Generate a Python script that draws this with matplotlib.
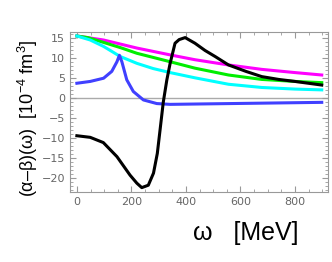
import matplotlib.pyplot as plt
import numpy as np
from matplotlib.ticker import MultipleLocator

plt.rcParams['mathtext.fontset'] = 'custom'
plt.rcParams['mathtext.rm'] = 'Liberation Sans'
plt.rcParams['mathtext.it'] = 'Liberation Sans'

# curves (omega in MeV, values in 10^-4 fm^3)
w_black = np.array([0, 49, 97, 147, 195, 220, 238, 262, 281, 295, 305, 317, 330, 342, 360, 375, 397,
                    433, 470, 507, 556, 620, 678, 740, 800, 898])
v_black = np.array([-9.4, -9.8, -11.1, -14.6, -19.2, -21.2, -22.3, -21.7, -18.7, -13.8, -8.0, -1.0, 4.5,
                    8.6, 13.6, 14.5, 15.0, 13.6, 11.8, 10.3, 8.2, 6.6, 5.3, 4.6, 4.1, 3.2])

w_mag = np.array([0, 98, 220, 342, 433, 556, 678, 800, 898])
v_mag = np.array([15.4, 14.4, 12.4, 10.7, 9.5, 8.2, 7.1, 6.3, 5.7])

w_green = np.array([0, 40, 98, 160, 220, 342, 433, 556, 678, 800, 898])
v_green = np.array([15.4, 15.0, 13.8, 12.5, 11.1, 9.0, 7.4, 5.7, 4.6, 4.1, 3.8])

w_cyan = np.array([0, 49, 98, 159, 220, 280, 342, 433, 556, 678, 800, 898])
v_cyan = np.array([15.4, 14.4, 12.8, 10.3, 8.6, 7.3, 6.3, 5.0, 3.4, 2.6, 2.2, 2.0])

w_blue = np.array([0, 49, 98, 128, 147, 156, 165, 183, 207, 244, 293, 342, 452, 678, 898])
v_blue = np.array([3.65, 4.1, 4.9, 6.6, 9.0, 10.6, 9.0, 4.5, 1.6, -0.5, -1.4, -1.6, -1.5, -1.3, -1.1])

fig = plt.figure(figsize=(3.32, 2.62), dpi=100)
ax = fig.add_axes([0.211, 0.267, 0.777, 0.611])

ax.axhline(0, color='#aaaaaa', lw=1.0, zorder=1)
lw = 2.2
ax.plot(w_mag, v_mag, color='#ff00ff', lw=lw)
ax.plot(w_green, v_green, color='#00ee00', lw=lw)
ax.plot(w_cyan, v_cyan, color='#00ffff', lw=lw)
ax.plot(w_blue, v_blue, color='#4040ff', lw=lw)
ax.plot(w_black, v_black, color='black', lw=lw)

ax.set_xlim(-25, 921)
ax.set_ylim(-23.4, 16.4)
ax.xaxis.set_major_locator(MultipleLocator(200))
ax.xaxis.set_minor_locator(MultipleLocator(50))
ax.yaxis.set_major_locator(MultipleLocator(5))
ax.yaxis.set_minor_locator(MultipleLocator(1))
ax.tick_params(which='both', direction='in', top=True, right=True,
               color='#999999', labelcolor='#666666', labelsize=8)
ax.tick_params(which='major', length=4)
ax.tick_params(which='minor', length=2)
for s in ax.spines.values():
    s.set_color('#999999')

fig.text(0.085, 0.55, '(α–β)(ω)  [10$^{-4}$ fm$^{3}$]', family='Liberation Sans',
         rotation=90, ha='center', va='center', fontsize=13)
fig.text(0.74, 0.11, 'ω   [MeV]', family='Liberation Sans', ha='center', va='center', fontsize=18)

plt.savefig('out.png', dpi=100)
